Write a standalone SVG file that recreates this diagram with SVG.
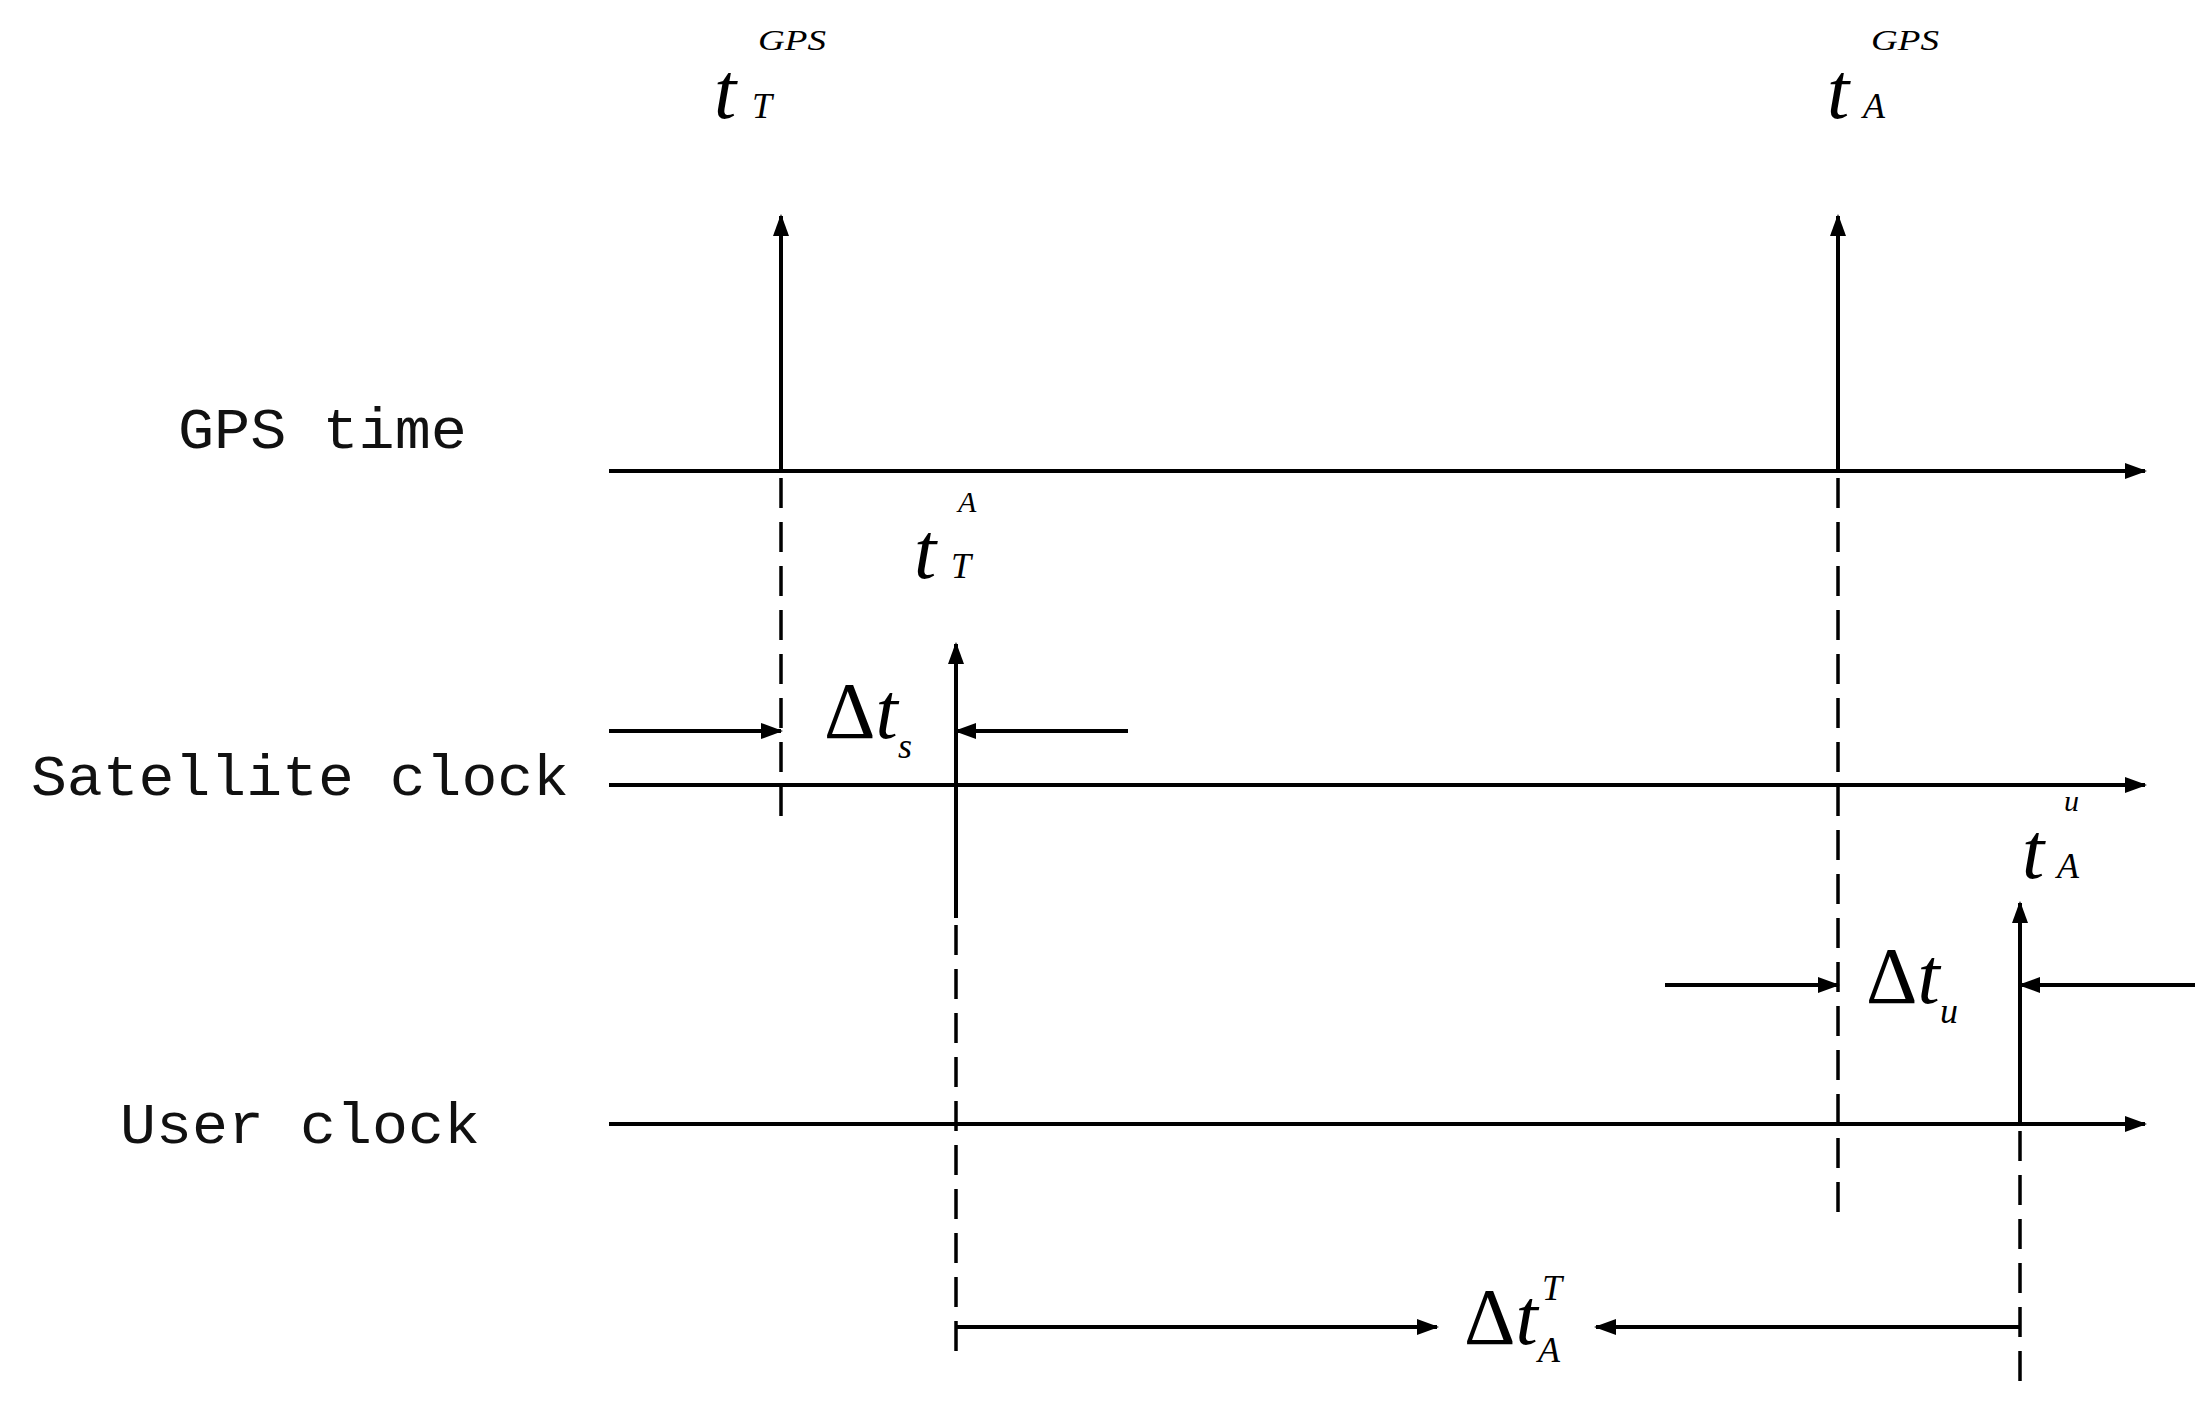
<svg xmlns="http://www.w3.org/2000/svg" width="2208" height="1411" viewBox="0 0 2208 1411">
<style>
.ln{stroke:#000;stroke-width:4;fill:none}
.ds{stroke:#000;stroke-width:3.5;fill:none;stroke-dasharray:30 14}
.lab{font-family:"Liberation Mono",monospace;font-size:58px;fill:#111}
.m{font-family:"Liberation Serif","Times New Roman",serif;font-style:italic;fill:#000}
.t{font-size:80px}.sub{font-size:36px}.sup{font-size:30px}
</style>
<defs>
<marker id="ah" markerUnits="userSpaceOnUse" markerWidth="22" markerHeight="16" refX="20" refY="8" orient="auto"><path d="M0,0 L22,8 L0,16 Z" fill="#000"/></marker>
</defs>
<rect width="2208" height="1411" fill="#fff"/>
<g id="connectors">
<line class="ln" x1="609" y1="471" x2="2145" y2="471" marker-end="url(#ah)"/>
<line class="ln" x1="609" y1="785" x2="2145" y2="785" marker-end="url(#ah)"/>
<line class="ln" x1="609" y1="1124" x2="2145" y2="1124" marker-end="url(#ah)"/>
<line class="ln" x1="781" y1="471" x2="781" y2="216" marker-end="url(#ah)"/>
<line class="ds" x1="781" y1="478" x2="781" y2="822"/>
<line class="ln" x1="1838" y1="471" x2="1838" y2="216" marker-end="url(#ah)"/>
<line class="ds" x1="1838" y1="478" x2="1838" y2="1216"/>
<line class="ln" x1="956" y1="918" x2="956" y2="644" marker-end="url(#ah)"/>
<line class="ds" x1="956" y1="925" x2="956" y2="1359"/>
<line class="ln" x1="2020" y1="1124" x2="2020" y2="903" marker-end="url(#ah)"/>
<line class="ds" x1="2020" y1="1131" x2="2020" y2="1387"/>
<line class="ln" x1="609" y1="731" x2="781" y2="731" marker-end="url(#ah)"/>
<line class="ln" x1="1128" y1="731" x2="956" y2="731" marker-end="url(#ah)"/>
<line class="ln" x1="1665" y1="985" x2="1838" y2="985" marker-end="url(#ah)"/>
<line class="ln" x1="2195" y1="985" x2="2020" y2="985" marker-end="url(#ah)"/>
<line class="ln" x1="956" y1="1327" x2="1437" y2="1327" marker-end="url(#ah)"/>
<line class="ln" x1="2020" y1="1327" x2="1596" y2="1327" marker-end="url(#ah)"/>
</g>
<g id="gps-time"><text class="lab" x="178" y="448" textLength="289" lengthAdjust="spacingAndGlyphs">GPS time</text></g>
<g id="satellite-clock"><text class="lab" x="31" y="795" textLength="538" lengthAdjust="spacingAndGlyphs">Satellite clock</text></g>
<g id="user-clock"><text class="lab" x="120" y="1143" textLength="360" lengthAdjust="spacingAndGlyphs">User clock</text></g>
<g id="tT-GPS" class="m"><text class="t" x="714" y="118">t</text><text class="sub" x="752" y="118">T</text><text class="sup" x="758" y="50" textLength="68" lengthAdjust="spacingAndGlyphs">GPS</text></g>
<g id="tA-GPS" class="m"><text class="t" x="1827" y="118">t</text><text class="sub" x="1863" y="118">A</text><text class="sup" x="1871" y="50" textLength="68" lengthAdjust="spacingAndGlyphs">GPS</text></g>
<g id="tT-A" class="m"><text class="t" x="914" y="578">t</text><text class="sub" x="951" y="578">T</text><text class="sup" x="958" y="512">A</text></g>
<g id="tA-u" class="m"><text class="t" x="2022" y="878">t</text><text class="sub" x="2057" y="878">A</text><text class="sup" x="2064" y="811">u</text></g>
<g id="dts" class="m"><text class="t" x="824" y="738" style="font-style:normal">Δ<tspan style="font-style:italic">t</tspan></text><text class="sub" x="898" y="758">s</text></g>
<g id="dtu" class="m"><text class="t" x="1866" y="1003" style="font-style:normal">Δ<tspan style="font-style:italic">t</tspan></text><text class="sub" x="1940" y="1023">u</text></g>
<g id="dtAT" class="m"><text class="t" x="1464" y="1344" style="font-style:normal">Δ<tspan style="font-style:italic">t</tspan></text><text class="sub" x="1542" y="1300">T</text><text class="sub" x="1538" y="1362">A</text></g>
</svg>
